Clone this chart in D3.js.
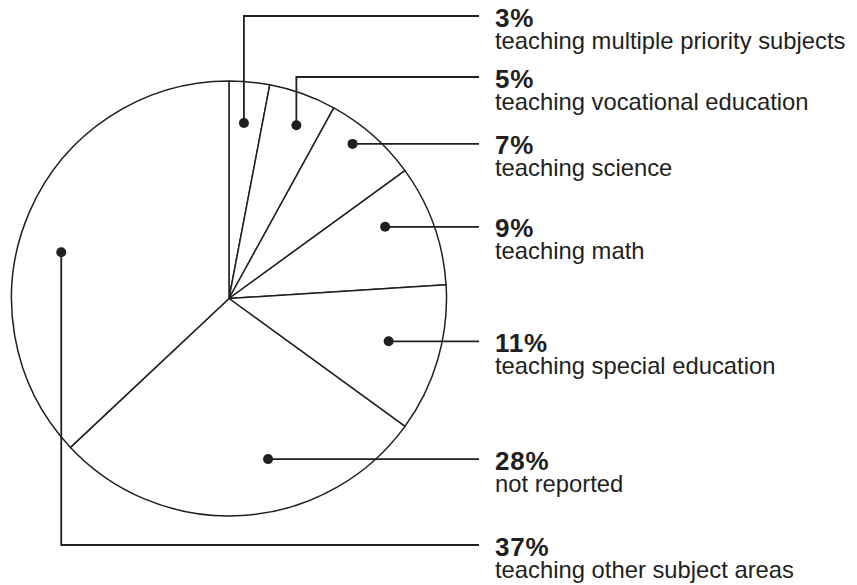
<!DOCTYPE html>
<html>
<head>
<meta charset="utf-8">
<script src="https://cdn.jsdelivr.net/npm/d3@7"></script>
<style>
  html, body { margin: 0; padding: 0; background: #fff; }
  svg { display: block; }
</style>
</head>
<body>
<svg id="chart" width="857" height="585"></svg>
<script>
// ---- data ----
const categories = [
  "teaching multiple priority subjects",
  "teaching vocational education",
  "teaching science",
  "teaching math",
  "teaching special education",
  "not reported",
  "teaching other subject areas"
];
const values = [3, 5, 7, 9, 11, 28, 37];
const valueLabels = ["3%", "5%", "7%", "9%", "11%", "28%", "37%"];

// ---- layout (annotation placement) ----
const dotAngleFrac = [0.45, 0.58, 0.39, 0.35, 0.47, 0.40, 0.44];
const dotRadiusFrac = [0.81, 0.855, 0.91, 0.79, 0.76, 0.76, 0.80];
const elbowY = [16, 77, null, null, null, null, 545];

const W = 857, H = 585;
const cx = 229, cy = 298.5, R = 217.5;
const lineEndX = 479, textX = 495;
const ink = "#231f20";
const font = "'Liberation Sans', Arial, Helvetica, sans-serif";

const svg = d3.select("#chart");
const g = svg.append("g").attr("transform", `translate(${cx},${cy})`);

const pie = d3.pie().sort(null).value(d => d).startAngle(0).endAngle(2 * Math.PI);
const arcs = pie(values);
const arc = d3.arc().innerRadius(0).outerRadius(R);

g.selectAll("path.slice")
  .data(arcs)
  .join("path")
  .attr("class", "slice")
  .attr("d", arc)
  .attr("fill", "#fff")
  .attr("stroke", ink)
  .attr("stroke-width", 1.5)
  .attr("stroke-linejoin", "round");

// dot positions from slice angles
const dots = arcs.map((a, i) => {
  const ang = a.startAngle + (a.endAngle - a.startAngle) * dotAngleFrac[i];
  const r = R * dotRadiusFrac[i];
  return { x: cx + r * Math.sin(ang), y: cy - r * Math.cos(ang) };
});

const ann = svg.append("g");

dots.forEach((d, i) => {
  const ly = elbowY[i] != null ? elbowY[i] : d.y;
  const path = elbowY[i] != null
    ? `M${d.x},${d.y}V${ly}H${lineEndX}`
    : `M${d.x},${d.y}H${lineEndX}`;
  ann.append("path")
    .attr("d", path)
    .attr("fill", "none")
    .attr("stroke", ink)
    .attr("stroke-width", 1.8);
  ann.append("circle")
    .attr("cx", d.x).attr("cy", d.y).attr("r", 5)
    .attr("fill", ink);
  ann.append("text")
    .attr("x", textX).attr("y", ly + 10.5)
    .attr("font-family", font)
    .attr("font-weight", "bold")
    .attr("font-size", 26)
    .attr("letter-spacing", 0.8)
    .attr("fill", ink)
    .text(valueLabels[i]);
  ann.append("text")
    .attr("x", textX).attr("y", ly + 32.5)
    .attr("font-family", font)
    .attr("font-size", 23.8)
    .attr("fill", ink)
    .text(categories[i]);
});
</script>
</body>
</html>
